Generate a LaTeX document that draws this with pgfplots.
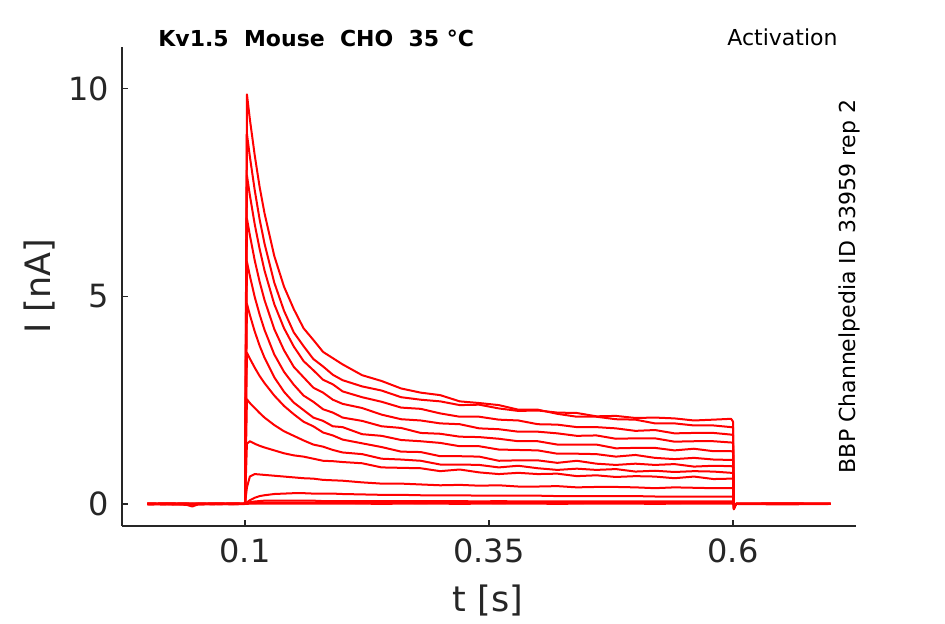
\documentclass[border=0pt]{standalone}
\usepackage{fontspec}
\setmainfont{DejaVu Sans}
\usepackage{pgfplots}
\usepackage{pgfplotstable}
\pgfplotsset{compat=1.18}
\definecolor{axgray}{HTML}{262626}

\pgfplotstableread{
t T1 T2 T3 T4 T5 T6 T7 T8 T9 T10 T11 T12 T13 T14
0 0.00 0.01 0.00 -0.01 0.00 0.01 0.00 0.00 -0.01 0.00 0.01 0.00 0.00 0.00
0.02 0.01 0.00 -0.01 0.00 0.01 0.00 0.00 0.01 0.00 -0.01 0.00 0.00 0.01 0.00
0.04 0.00 0.00 -0.02 0.01 0.00 0.00 0.01 0.00 0.00 0.00 -0.01 0.01 0.00 0.00
0.046 -0.01 0.00 -0.06 0.00 -0.01 0.00 0.00 0.00 0.01 0.00 0.00 0.00 0.00 -0.01
0.052 0.00 0.01 -0.01 0.00 0.00 0.00 -0.01 0.00 0.00 0.01 0.00 0.00 0.00 0.00
0.07 0.01 0.00 0.00 0.00 0.01 0.00 0.00 -0.01 0.00 0.00 0.01 0.00 0.00 0.00
0.09 0.00 0.00 0.01 0.00 0.00 0.01 0.00 0.00 0.00 0.00 0.00 -0.01 0.00 0.01
0.1 0 0 0 0 0 0 0 0 0 0 0 0 0 0
0.102 9.86 8.91 7.91 6.87 5.83 4.82 3.64 2.52 1.45 0.40 0.04 0.02 0.01 0.00
0.105 9.26 8.36 7.43 6.47 5.49 4.55 3.50 2.43 1.51 0.66 0.09 0.04 0.02 0.01
0.11 8.39 7.55 6.73 5.86 4.98 4.15 3.28 2.31 1.45 0.72 0.15 0.06 0.02 0.01
0.115 7.63 6.85 6.14 5.35 4.56 3.81 3.08 2.19 1.40 0.71 0.19 0.07 0.03 0.01
0.12 7.00 6.27 5.62 4.91 4.19 3.52 2.91 2.08 1.36 0.70 0.21 0.08 0.03 0.01
0.13 5.97 5.33 4.81 4.21 3.60 3.05 2.61 1.90 1.29 0.68 0.24 0.08 0.03 0.01
0.14 5.23 4.65 4.23 3.70 3.18 2.70 2.36 1.75 1.22 0.66 0.25 0.08 0.03 0.01
0.15 4.69 4.13 3.79 3.30 2.87 2.44 2.16 1.64 1.17 0.64 0.26 0.08 0.03 0.01
0.16 4.23 3.80 3.44 3.05 2.61 2.26 1.98 1.53 1.14 0.62 0.26 0.08 0.03 0.01
0.17 3.95 3.49 3.22 2.80 2.46 2.08 1.87 1.43 1.09 0.61 0.25 0.08 0.03 0.01
0.18 3.66 3.31 2.99 2.68 2.28 2.00 1.72 1.38 1.04 0.58 0.25 0.07 0.03 0.01
0.19 3.51 3.11 2.88 2.51 2.20 1.87 1.65 1.30 1.03 0.57 0.25 0.07 0.03 0.01
0.20 3.36 2.98 2.71 2.41 2.08 1.85 1.55 1.24 1.01 0.56 0.24 0.07 0.03 0.01
0.22 3.10 2.83 2.57 2.31 2.00 1.68 1.46 1.20 0.98 0.52 0.23 0.07 0.02 0.01
0.24 2.96 2.73 2.46 2.15 1.87 1.64 1.37 1.09 0.88 0.49 0.22 0.07 0.03 0.00
0.26 2.78 2.57 2.32 2.04 1.83 1.54 1.26 1.07 0.87 0.49 0.22 0.07 0.03 0.01
0.28 2.68 2.51 2.29 2.01 1.71 1.51 1.25 1.04 0.86 0.47 0.21 0.07 0.02 0.01
0.30 2.62 2.47 2.18 1.94 1.69 1.47 1.15 0.95 0.79 0.45 0.21 0.07 0.03 0.01
0.32 2.47 2.38 2.10 1.92 1.62 1.39 1.15 0.95 0.83 0.46 0.21 0.07 0.03 0.00
0.34 2.43 2.39 2.10 1.82 1.61 1.39 1.14 0.94 0.76 0.44 0.20 0.06 0.03 0.01
0.36 2.38 2.30 2.03 1.80 1.57 1.31 1.04 0.88 0.72 0.45 0.20 0.07 0.02 0.01
0.38 2.27 2.24 2.01 1.74 1.51 1.30 1.05 0.92 0.75 0.42 0.20 0.06 0.03 0.01
0.40 2.27 2.25 1.92 1.74 1.51 1.29 1.05 0.86 0.72 0.42 0.20 0.06 0.03 0.01
0.42 2.17 2.20 1.91 1.70 1.43 1.21 0.99 0.82 0.73 0.43 0.19 0.06 0.03 0.00
0.44 2.10 2.19 1.85 1.64 1.43 1.21 1.04 0.85 0.67 0.40 0.19 0.06 0.02 0.01
0.46 2.10 2.11 1.85 1.65 1.43 1.20 0.97 0.82 0.69 0.41 0.19 0.06 0.03 0.01
0.48 2.04 2.12 1.82 1.57 1.34 1.14 0.94 0.84 0.65 0.41 0.19 0.06 0.03 0.01
0.50 2.03 2.07 1.76 1.58 1.35 1.18 0.97 0.78 0.67 0.40 0.19 0.06 0.03 0.01
0.52 1.94 2.08 1.78 1.58 1.35 1.11 0.94 0.80 0.66 0.38 0.18 0.06 0.03 0.00
0.54 1.94 2.06 1.70 1.50 1.29 1.08 0.96 0.77 0.62 0.40 0.18 0.06 0.02 0.01
0.56 1.89 2.01 1.71 1.51 1.33 1.11 0.90 0.79 0.66 0.39 0.18 0.06 0.03 0.01
0.58 1.89 2.03 1.71 1.51 1.27 1.07 0.92 0.78 0.60 0.38 0.18 0.06 0.03 0.01
0.598 1.85 2.05 1.67 1.48 1.27 1.06 0.91 0.75 0.61 0.38 0.18 0.06 0.03 0.01
0.6 1.84 1.98 1.66 1.47 1.26 1.06 0.90 0.75 0.61 0.38 0.18 0.06 0.03 0.01
0.6008 -0.12 -0.13 -0.11 -0.12 -0.10 -0.11 -0.10 -0.09 -0.08 -0.06 -0.04 -0.03 -0.02 -0.02
0.603 0 0 0 0 0 0 0 0 0 0 0 0 0 0
0.65 0.00 0.01 0.00 -0.01 0.00 0.00 0.01 0.00 0.00 0.00 0.00 0.01 0.00 0.00
0.7 0 0 0 0 0 0 0 0 0 0 0 0 0 0
}\currents

\begin{document}
\begin{tikzpicture}
\path[use as bounding box] (-61pt,-49pt) rectangle (411.5pt,263pt);
\begin{axis}[
  at={(0,0)}, anchor=south west,
  width=367pt, height=239.5pt, scale only axis,
  xmin=-0.026, xmax=0.726, ymin=-0.53, ymax=11,
  axis lines=left,
  axis line style={-, draw=axgray, line width=0.6pt},
  tick align=inside, major tick length=3pt,
  tick style={draw=axgray, line width=0.6pt},
  xtick={0.1,0.35,0.6}, xticklabels={0.1,0.35,0.6},
  ytick={0,5,10}, yticklabels={0,5,10},
  ticklabel style={font=\fontsize{16}{19}\selectfont, text=axgray},
  xticklabel style={yshift=-3pt},
  yticklabel style={xshift=-3pt},
  clip=false,
]
\pgfplotsinvokeforeach{1,...,14}{
  \addplot[red, line width=1pt, line join=round, no markers] table[x=t, y=T#1] {\currents};
}
\end{axis}
\node[anchor=base west, inner sep=0, font=\bfseries\fontsize{11}{13}\selectfont] at (18pt,239.6pt) {Kv1.5\ \ Mouse\ \ CHO\ \ 35\ °C};
\node[anchor=base west, inner sep=0, font=\fontsize{11}{13}\selectfont] at (302.5pt,240pt) {Activation};
\node[rotate=90, inner sep=0, font=\fontsize{11}{13}\selectfont] at (363.5pt,119.75pt) {BBP Channelpedia ID 33959 rep 2};
\node[inner sep=0, font=\fontsize{17.5}{20}\selectfont, text=axgray] at (183pt,-37.5pt) {t [s]};
\node[rotate=90, inner sep=0, font=\fontsize{17.5}{20}\selectfont, text=axgray] at (-41pt,119.75pt) {I [nA]};
\end{tikzpicture}
\end{document}
